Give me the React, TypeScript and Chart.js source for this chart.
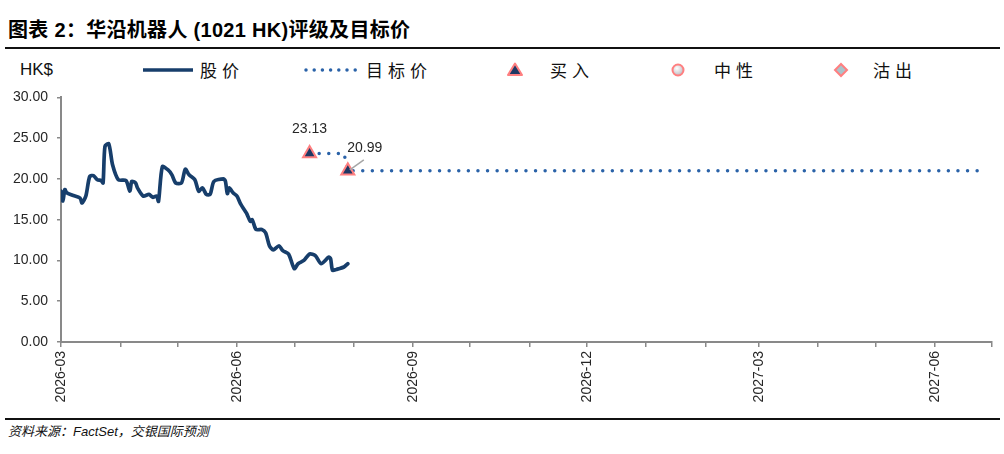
import React, { useEffect, useRef } from "react";
import { Chart, registerables } from "chart.js";

Chart.register(...registerables);

const title = "图表 2：华沿机器人 (1021 HK)评级及目标价";
const source = "资料来源：FactSet，交银国际预测";
const unitLabel = "HK$";

const priceDates = [
  "2026-03-01", "2026-03-02", "2026-03-03", "2026-03-04", "2026-03-07", "2026-03-11", "2026-03-12", "2026-03-14",
  "2026-03-16", "2026-03-18", "2026-03-20", "2026-03-22", "2026-03-23", "2026-03-24", "2026-03-26", "2026-03-28",
  "2026-03-31", "2026-04-04", "2026-04-06", "2026-04-07", "2026-04-09", "2026-04-10", "2026-04-13", "2026-04-16",
  "2026-04-18", "2026-04-20", "2026-04-21", "2026-04-23", "2026-04-26", "2026-04-28", "2026-04-30", "2026-05-03",
  "2026-05-05", "2026-05-07", "2026-05-10", "2026-05-12", "2026-05-14", "2026-05-16", "2026-05-18", "2026-05-20",
  "2026-05-25", "2026-05-26", "2026-05-27", "2026-05-28", "2026-05-30", "2026-06-01", "2026-06-03", "2026-06-06",
  "2026-06-08", "2026-06-09", "2026-06-11", "2026-06-14", "2026-06-16", "2026-06-18", "2026-06-20", "2026-06-23",
  "2026-06-25", "2026-06-28", "2026-07-01", "2026-07-03", "2026-07-06", "2026-07-09", "2026-07-12", "2026-07-15",
  "2026-07-19", "2026-07-20", "2026-07-21", "2026-07-23", "2026-07-27", "2026-07-29",
];
const priceValues = [
  18.5, 17.3, 18.7, 18.3, 18.0, 17.65, 17.05, 17.9,
  20.3, 20.4, 19.9, 19.8, 19.5, 24.0, 24.3, 21.7,
  19.9, 19.8, 18.5, 19.7, 19.5, 18.9, 17.9, 18.1,
  17.75, 17.9, 17.25, 21.5, 21.1, 20.5, 19.5, 19.5,
  21.2, 20.5, 19.9, 18.5, 18.9, 18.1, 18.1, 19.7,
  20.0, 19.7, 18.2, 18.9, 18.3, 17.9, 16.9, 15.8,
  14.8, 15.0, 13.8, 13.8, 13.4, 11.8, 11.3, 11.8,
  11.2, 10.8, 9.0, 9.6, 10.0, 10.8, 10.6, 9.6,
  10.4, 10.2, 8.8, 8.9, 9.2, 9.6,
];

const targetDates = ["2026-07-09", "2026-07-27", "2026-07-29", "2027-06-28"];
const targetValues = [23.13, 23.13, 20.99, 20.99];

const buyDates = ["2026-07-09", "2026-07-29"];
const buyValues = [23.13, 20.99];

const monthTicks = [
  "2026-03-01", "2026-04-01", "2026-05-01", "2026-06-01", "2026-07-01", "2026-08-01", "2026-09-01",
  "2026-10-01", "2026-11-01", "2026-12-01", "2027-01-01", "2027-02-01", "2027-03-01", "2027-04-01",
  "2027-05-01", "2027-06-01", "2027-07-01",
];
const tickLabels = ["2026-03", "2026-06", "2026-09", "2026-12", "2027-03", "2027-06"];
const yTicks = [0, 5, 10, 15, 20, 25, 30];

const legendNames = ["股价", "目标价", "买入", "中性", "沽出"];

const BASE = Date.UTC(2026, 2, 1);
function dayOf(s: string): number {
  const [y, m, d] = s.split("-").map(Number);
  return Math.round((Date.UTC(y, m - 1, d) - BASE) / 86400000);
}

const NAVY = "#173E6B";
const DOT = "#2A62A8";
const PINK = "#FF7F80";

const labelPlugin = {
  id: "targetLabels",
  afterDatasetsDraw(chart: any) {
    const meta = chart.getDatasetMeta(2);
    if (!meta || !meta.data || meta.data.length < 2) return;
    const ctx = chart.ctx;
    const p0 = meta.data[0];
    const p1 = meta.data[1];
    ctx.save();
    ctx.strokeStyle = "#A6A6A6";
    ctx.lineWidth = 1.5;
    ctx.beginPath();
    ctx.moveTo(p1.x + 16, p1.y - 11);
    ctx.lineTo(p1.x + 2, p1.y - 1);
    ctx.stroke();
    ctx.fillStyle = "#262626";
    ctx.font = "14px 'Liberation Sans', sans-serif";
    ctx.textBaseline = "middle";
    ctx.textAlign = "center";
    ctx.fillText(buyValues[0].toFixed(2), p0.x, p0.y - 24);
    ctx.fillText(buyValues[1].toFixed(2), p1.x + 17, p1.y - 23);
    ctx.restore();
  },
};

function Legend() {
  const txt: React.CSSProperties = {
    position: "absolute",
    top: 59,
    lineHeight: "22px",
    fontFamily: "'Noto Sans CJK SC', sans-serif",
    fontSize: 17,
    color: "#111",
    letterSpacing: 5,
    whiteSpace: "nowrap",
  };
  return (
    <>
      <div style={{ ...txt, left: 20, fontFamily: "'Liberation Sans', sans-serif", letterSpacing: 0, fontSize: 17 }}>{unitLabel}</div>
      <svg style={{ position: "absolute", left: 0, top: 55, overflow: "visible" }} width={1004} height={30}>
        <line x1={143} y1={15} x2={193} y2={15} stroke={NAVY} strokeWidth={3.5} />
        <line x1={306} y1={15} x2={356} y2={15} stroke={DOT} strokeWidth={3.5} strokeDasharray="0 8.2" strokeLinecap="round" />
        <polygon points="515,8.5 522,20 508,20" fill="#1F3864" stroke={PINK} strokeWidth={2} strokeLinejoin="round" />
        <defs>
          <radialGradient id="g1" cx="0.4" cy="0.35" r="0.7">
            <stop offset="0" stopColor="#FFFFFF" />
            <stop offset="1" stopColor="#B8B8C0" />
          </radialGradient>
        </defs>
        <circle cx={678} cy={15} r={5.5} fill="url(#g1)" stroke={PINK} strokeWidth={2} />
        <polygon points="841,9 847,15 841,21 835,15" fill="#A9C3CA" stroke={PINK} strokeWidth={2} />
      </svg>
      <div style={{ ...txt, left: 200 }}>{legendNames[0]}</div>
      <div style={{ ...txt, left: 366 }}>{legendNames[1]}</div>
      <div style={{ ...txt, left: 550 }}>{legendNames[2]}</div>
      <div style={{ ...txt, left: 714 }}>{legendNames[3]}</div>
      <div style={{ ...txt, left: 873 }}>{legendNames[4]}</div>
    </>
  );
}

export default function App() {
  const ref = useRef<HTMLCanvasElement | null>(null);

  useEffect(() => {
    if (!ref.current) return;
    const labelMap: Record<number, string> = {};
    tickLabels.forEach((l) => {
      labelMap[dayOf(l + "-01")] = l;
    });
    const chart = new Chart(ref.current, {
      type: "line",
      data: {
        datasets: [
          {
            label: legendNames[1],
            data: targetDates.map((d, i) => ({ x: dayOf(d), y: targetValues[i] })),
            borderColor: DOT,
            borderWidth: 3.5,
            borderDash: [0, 9.6],
            borderCapStyle: "round",
            pointRadius: 0,
            order: 2,
          },
          {
            label: legendNames[0],
            data: priceDates.map((d, i) => ({ x: dayOf(d), y: priceValues[i] })),
            borderColor: NAVY,
            borderWidth: 3.7,
            borderJoinStyle: "round",
            borderCapStyle: "round",
            tension: 0.25,
            pointRadius: 0,
            order: 1,
          },
          {
            label: legendNames[2],
            type: "scatter",
            data: buyDates.map((d, i) => ({ x: dayOf(d), y: buyValues[i] })),
            pointStyle: "triangle",
            pointRadius: 7.5,
            backgroundColor: "#1F3864",
            borderColor: PINK,
            borderWidth: 2,
            order: 0,
          },
        ] as any,
      },
      options: {
        animation: false,
        responsive: false,
        maintainAspectRatio: false,
        layout: { padding: { top: 15, right: 4, left: 0, bottom: 0 } },
        plugins: { legend: { display: false }, tooltip: { enabled: false } },
        scales: {
          x: {
            type: "linear",
            min: dayOf(monthTicks[0]),
            max: dayOf(monthTicks[monthTicks.length - 1]),
            afterBuildTicks: (axis: any) => {
              axis.ticks = monthTicks.map((m) => ({ value: dayOf(m) }));
            },
            afterFit: (axis: any) => {
              axis.height = 71;
            },
            border: { color: "#898989", width: 2 },
            grid: { drawOnChartArea: false, drawTicks: true, tickLength: 5, color: "#898989", lineWidth: 1.5 },
            ticks: {
              autoSkip: false,
              minRotation: 90,
              maxRotation: 90,
              padding: 4,
              color: "#262626",
              font: { family: "'Liberation Sans', sans-serif", size: 14 },
              callback: (v: any) => labelMap[v as number] || "",
            },
          },
          y: {
            min: 0,
            max: 30,
            afterBuildTicks: (axis: any) => {
              axis.ticks = yTicks.map((v) => ({ value: v }));
            },
            afterFit: (axis: any) => {
              axis.width = 61;
            },
            border: { color: "#898989", width: 2 },
            grid: { drawOnChartArea: false, drawTicks: true, tickLength: 4, color: "#898989", lineWidth: 1.5 },
            ticks: {
              padding: 9,
              color: "#262626",
              font: { family: "'Liberation Sans', sans-serif", size: 14 },
              callback: (v: any) => Number(v).toFixed(2),
            },
          },
        },
      } as any,
      plugins: [labelPlugin],
    });
    return () => chart.destroy();
  }, []);

  return (
    <div style={{ position: "fixed", left: 0, top: 0, width: 1004, height: 454, background: "#fff", overflow: "hidden" }}>
      <div
        style={{
          position: "absolute",
          left: 8,
          top: 17,
          fontFamily: "'Liberation Sans', 'Noto Sans CJK SC', sans-serif",
          fontWeight: "bold",
          fontSize: 20,
          lineHeight: "26px",
          letterSpacing: 0.3,
          color: "#000",
          whiteSpace: "nowrap",
        }}
      >
        {title}
      </div>
      <div style={{ position: "absolute", left: 5, top: 47, width: 995, height: 2, background: "#111" }} />
      <Legend />
      <canvas ref={ref} width={1013} height={333} style={{ position: "absolute", left: 0, top: 80, width: 1013, height: 333, display: "block" }} />
      <div style={{ position: "absolute", left: 5, top: 418, width: 995, height: 2, background: "#111" }} />
      <div
        style={{
          position: "absolute",
          left: 8,
          top: 423,
          fontFamily: "'Liberation Sans', 'Noto Sans CJK SC', sans-serif",
          fontStyle: "italic",
          fontSize: 13,
          lineHeight: "18px",
          color: "#111",
          whiteSpace: "nowrap",
        }}
      >
        {source}
      </div>
    </div>
  );
}
